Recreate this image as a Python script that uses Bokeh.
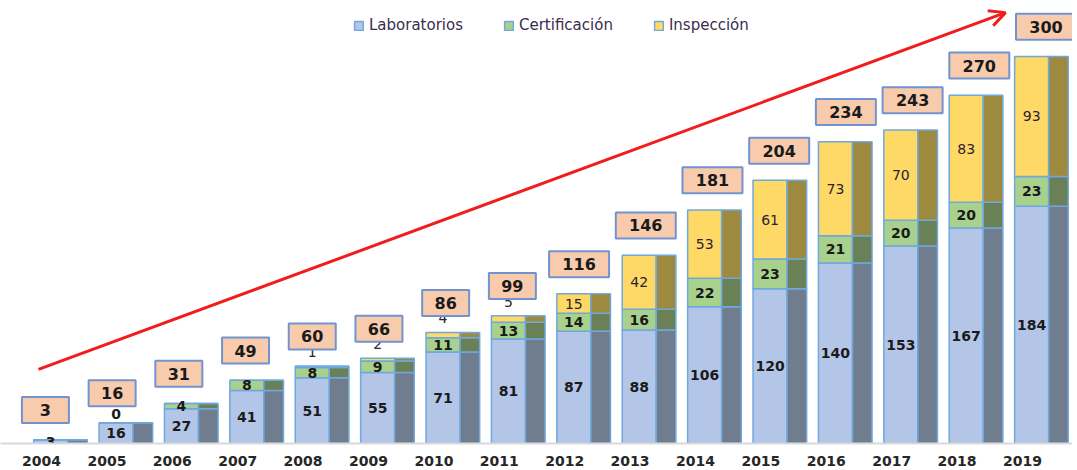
from bokeh.plotting import figure
from bokeh.models import ColumnDataSource, FixedTicker, Range1d, Legend, LegendItem, Arrow, OpenHead
from bokeh.core.properties import value
from bokeh.embed import file_html
from bokeh.resources import INLINE

years = [2004, 2005, 2006, 2007, 2008, 2009, 2010, 2011, 2012, 2013, 2014, 2015, 2016, 2017, 2018, 2019]
laboratorios = [3, 16, 27, 41, 51, 55, 71, 81, 87, 88, 106, 120, 140, 153, 167, 184]
certificacion = [0, 0, 4, 8, 8, 9, 11, 13, 14, 16, 22, 23, 21, 20, 20, 23]
inspeccion = [0, 0, 0, 0, 1, 2, 4, 5, 15, 42, 53, 61, 73, 70, 83, 93]
series_names = ["Laboratorios", "Certificación", "Inspección"]

totals = [a + b + c for a, b, c in zip(laboratorios, certificacion, inspeccion)]

FONT = "DejaVu Sans"
front_colors = ["#b4c6e7", "#a9d18e", "#ffd966"]
side_colors = ["#707d8f", "#6a8158", "#9e8a3e"]
edge = "#6fa8dc"

FRONT_OFF, FRONT_W = 0.14, 0.52
SIDE_OFF, SIDE_W = 0.55, 0.30

p = figure(width=1072, height=468, output_backend="svg", toolbar_location=None,
           x_range=Range1d(2003.373, 2019.765), y_range=Range1d(0, 343.4),
           y_axis_location=None, min_border_left=0, min_border_right=0,
           min_border_top=0, min_border_bottom=0)
p.outline_line_color = None
p.xgrid.grid_line_color = None
p.ygrid.grid_line_color = None
p.background_fill_color = "white"

stacks = [laboratorios, certificacion, inspeccion]
bottoms = [0] * len(years)
legend_items = []
levels = []
for k, vals in enumerate(stacks):
    tops = [b + v for b, v in zip(bottoms, vals)]
    src = ColumnDataSource(dict(
        xf=[y + FRONT_OFF for y in years],
        xs=[y + SIDE_OFF for y in years],
        bottom=bottoms, top=tops))
    rf = p.vbar(x="xf", width=FRONT_W, bottom="bottom", top="top", source=src,
                fill_color=front_colors[k], line_color=edge, line_width=1.5)
    p.vbar(x="xs", width=SIDE_W, bottom="bottom", top="top", source=src,
           fill_color=side_colors[k], line_color=edge, line_width=1.5)
    legend_items.append(LegendItem(label=series_names[k], renderers=[rf]))
    levels.append((vals, bottoms, tops))
    bottoms = tops

# value labels
lab_vals, lab_b, lab_t = levels[0]
cert_vals, cert_b, cert_t = levels[1]
ins_vals, ins_b, ins_t = levels[2]

bx, by, bt = [], [], []
nx, ny, nt = [], [], []
for i, y in enumerate(years):
    xc = y + FRONT_OFF
    bx.append(xc); by.append((lab_b[i] + lab_t[i]) / 2); bt.append(str(lab_vals[i]))
    if cert_vals[i] > 0:
        bx.append(xc); by.append((cert_b[i] + cert_t[i]) / 2); bt.append(str(cert_vals[i]))
    elif lab_vals[i] > 10:
        bx.append(xc); by.append(cert_t[i] + 7); bt.append(str(cert_vals[i]))
    if ins_vals[i] >= 10:
        nx.append(xc); ny.append((ins_b[i] + ins_t[i]) / 2); nt.append(str(ins_vals[i]))
    elif ins_vals[i] > 0:
        nx.append(xc); ny.append(ins_t[i] + 11); nt.append(str(ins_vals[i]))

p.text(x=bx, y=by, text=bt, text_font=value(FONT), text_font_style="bold",
       text_font_size="14px", text_color="#1a1a1a", text_align="center", text_baseline="middle")
p.text(x=nx, y=ny, text=nt, text_font=value(FONT), text_font_style="normal",
       text_font_size="14px", text_color="#2b2233", text_align="center", text_baseline="middle")

# total boxes
tx = [y + FRONT_OFF - 0.08 + 0.02 * i for i, y in enumerate(years)]
ty = [t + 23 for t in totals]
tw = [60 if t >= 100 else 47 for t in totals]
p.rect(x=tx, y=ty, width=tw, height=26, width_units="screen", height_units="screen",
       fill_color="#f8cbad", line_color="#7193cf", line_width=2)
p.text(x=tx, y=ty, text=[str(t) for t in totals], text_font=value(FONT), text_font_style="bold",
       text_font_size="16px", text_color="#1a1a1a", text_align="center", text_baseline="middle")

# trend arrow
p.add_layout(Arrow(end=OpenHead(line_color="#f21c1c", line_width=3, size=16),
                   x_start=2003.954, y_start=57.4, x_end=2018.74, y_end=334,
                   line_color="#f21c1c", line_width=3))

# axis
p.xaxis.ticker = FixedTicker(ticks=years)
p.xaxis.major_label_overrides = {y: str(y) for y in years}
p.xaxis.axis_line_color = "#d9d9d9"
p.xaxis.axis_line_width = 2
p.xaxis.major_tick_line_color = None
p.xaxis.minor_tick_line_color = None
p.xaxis.major_label_standoff = 6
p.xaxis.major_label_text_font = FONT
p.xaxis.major_label_text_font_style = "bold"
p.xaxis.major_label_text_font_size = "14px"
p.xaxis.major_label_text_color = "#262626"

legend = Legend(items=legend_items, orientation="horizontal", location=(353, 409),
                label_text_font=FONT, label_text_font_size="15px", label_text_color="#3a2d4d",
                glyph_width=11, glyph_height=11, spacing=40, label_standoff=5,
                border_line_color=None, background_fill_alpha=0, padding=0, margin=0)
p.add_layout(legend)

open("out.html", "w").write(file_html(p, INLINE))
